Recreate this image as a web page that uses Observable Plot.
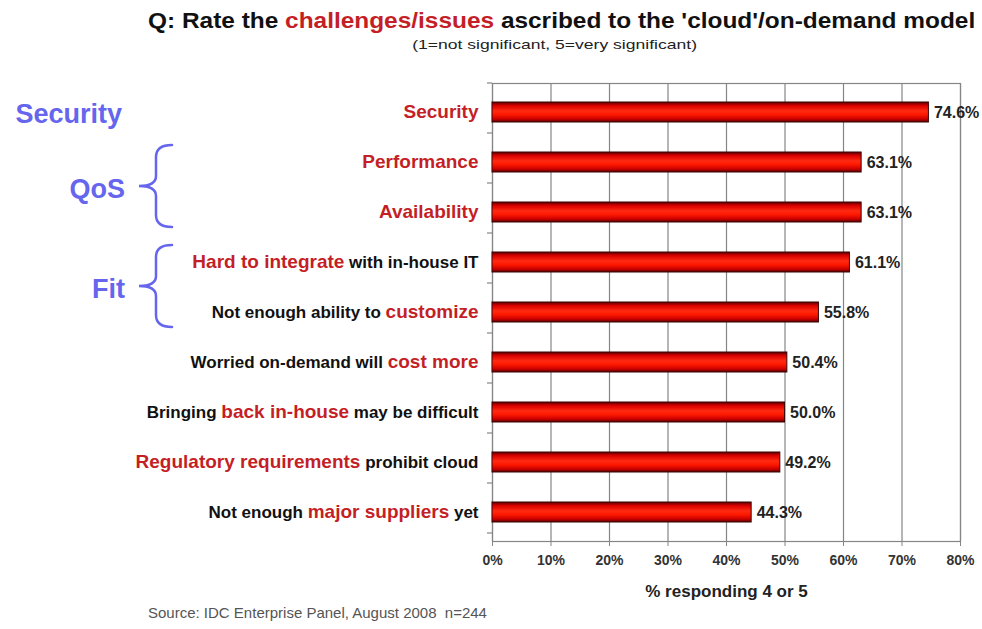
<!DOCTYPE html>
<html>
<head>
<meta charset="utf-8">
<script src="https://cdn.jsdelivr.net/npm/d3@7"></script>
<script src="https://cdn.jsdelivr.net/npm/@observablehq/plot@0.6"></script>
<style>
  html, body { margin: 0; padding: 0; background: #fff; }
  body { width: 982px; height: 629px; position: relative; overflow: hidden; font-family: "Liberation Sans", Arial, sans-serif; }
  #title { position: absolute; left: 148px; top: 8px; font-size: 22px; font-weight: bold; color: #111; white-space: nowrap; transform: scaleX(1.11); transform-origin: 0 0; }
  #title .hl { color: #c41f26; }
  #subtitle { position: absolute; left: 0; width: 1110px; top: 35px; text-align: center; white-space: nowrap; }
  #subtitle span { display: inline-block; font-size: 13.5px; color: #222; transform: scaleX(1.3); }
  #chart { position: absolute; left: 0; top: 55px; }
  #source { position: absolute; left: 148px; top: 604px; font-size: 15px; color: #555; white-space: nowrap; }
</style>
</head>
<body>
<div id="title">Q: Rate the <span class="hl">challenges/issues</span> ascribed to the 'cloud'/on-demand model</div>
<div id="subtitle"><span>(1=not significant, 5=very significant)</span></div>
<div id="chart"></div>
<div id="source">Source: IDC Enterprise Panel, August 2008&nbsp; n=244</div>
<script>
// ---- data ----
const labelParts = [
  [["Security", true]],
  [["Performance", true]],
  [["Availability", true]],
  [["Hard to integrate", true], [" with in-house IT", false]],
  [["Not enough ability to ", false], ["customize", true]],
  [["Worried on-demand will ", false], ["cost more", true]],
  [["Bringing ", false], ["back in-house", true], [" may be difficult", false]],
  [["Regulatory requirements", true], [" prohibit cloud", false]],
  [["Not enough ", false], ["major suppliers", true], [" yet", false]]
];
const categories = labelParts.map(p => p.map(s => s[0]).join(""));
const values = [74.6, 63.1, 63.1, 61.1, 55.8, 50.4, 50.0, 49.2, 44.3];
const xTicks = [0, 10, 20, 30, 40, 50, 60, 70, 80];
const xLabel = "% responding 4 or 5";
const groupNames = ["Security", "QoS", "Fit"];
const groupFirst = [categories[0], categories[1], categories[3]];
const groupLast = [categories[0], categories[2], categories[4]];
const groupBrace = [false, true, true];

const data = categories.map((c, i) => ({category: c, value: values[i]}));
const partsByLabel = new Map(categories.map((c, i) => [c, labelParts[i]]));

const RED = "#c41f26";
const GRID = "#858585";

const plot = Plot.plot({
  width: 982,
  height: 550,
  marginLeft: 492,
  marginRight: 22,
  marginTop: 28,
  marginBottom: 64,
  style: {fontFamily: "'Liberation Sans', Arial, sans-serif", background: "transparent", overflow: "visible"},
  x: {domain: [0, 80]},
  y: {domain: categories, paddingInner: 0.6, paddingOuter: 0.3},
  marks: [
    Plot.ruleX(xTicks, {stroke: GRID, strokeWidth: 1.2}),
    Plot.frame({stroke: GRID, strokeWidth: 1.2}),
    Plot.barX(data, {x: "value", y: "category", fill: "url(#barGrad)", stroke: "#3a0505", strokeWidth: 1}),
    Plot.text(data, {x: "value", y: "category", text: d => d.value.toFixed(1) + "%", textAnchor: "start", dx: 5, fontSize: 16, fontWeight: "bold", fill: "#222"}),
    Plot.axisX({ticks: xTicks, tickFormat: d => d + "%", tickSize: 5, tickPadding: 9, fontSize: 14, fontWeight: "bold", stroke: GRID, fill: "#333", label: null}),
    Plot.axisY({tickSize: 0, tickPadding: 14, fontSize: 17, fontWeight: "bold", fill: "#111", label: null}),
    Plot.text([xLabel], {frameAnchor: "bottom", dy: 50, fontSize: 17, fontWeight: "bold", fill: "#222", lineAnchor: "middle"})
  ]
});
document.getElementById("chart").appendChild(plot);

const svg = d3.select(plot);
// gradient for the cylinder-like bars
const defs = svg.insert("defs", ":first-child");
const grad = defs.append("linearGradient").attr("id", "barGrad").attr("x1", 0).attr("y1", 0).attr("x2", 0).attr("y2", 1);
[[0, "#5a0000"], [0.18, "#d80000"], [0.45, "#ff2a12"], [0.62, "#ff1a00"], [0.85, "#cc0000"], [1, "#5a0000"]]
  .forEach(([o, c]) => grad.append("stop").attr("offset", o).attr("stop-color", c));

// mixed-colour y tick labels
svg.selectAll('g[aria-label="y-axis tick label"] text').each(function() {
  const t = d3.select(this);
  const parts = partsByLabel.get(this.textContent);
  if (!parts) return;
  t.text(null).style("white-space", "pre");
  parts.forEach(([s, hl]) => {
    t.append("tspan").text(s).attr("fill", hl ? RED : "#111").attr("font-size", hl ? 19 : 17);
  });
});

// y scale helpers
const y = plot.scale("y");
const center = c => y.apply(c) + y.bandwidth / 2;
const step = y.step;
const x0 = plot.scale("x").apply(0);

// boundary ticks on the category axis
const gAnn = svg.append("g");
for (let i = 0; i <= categories.length; i++) {
  const yy = Math.min(...y.range) + i * step;
  gAnn.append("line").attr("x1", x0 - 5).attr("x2", x0).attr("y1", yy).attr("y2", yy).attr("stroke", GRID).attr("stroke-width", 1.2);
}

// group labels and braces
const BLUE = "#6565ee";
groupNames.forEach((name, i) => {
  const c1 = center(groupFirst[i]), c2 = center(groupLast[i]);
  const mid = (c1 + c2) / 2;
  gAnn.append("text").text(name)
    .attr("x", groupBrace[i] ? 125 : 122).attr("y", mid + 2)
    .attr("text-anchor", "end").attr("dominant-baseline", "central")
    .attr("font-size", 27).attr("font-weight", "bold").attr("fill", BLUE)
    .attr("font-family", "'Liberation Sans', Arial, sans-serif");
  if (groupBrace[i]) {
    const top = c1 - 17, bot = c2 + 15, m = (top + bot) / 2;
    const xe = 172, xs = 156, xt = 139;
    const p = `M${xe},${top} Q${xs},${top} ${xs},${top + 12} L${xs},${m - 10} Q${xs},${m} ${xt},${m} Q${xs},${m} ${xs},${m + 10} L${xs},${bot - 12} Q${xs},${bot} ${xe},${bot}`;
    gAnn.append("path").attr("d", p).attr("fill", "none").attr("stroke", BLUE).attr("stroke-width", 2.5).attr("stroke-linecap", "round");
  }
});
</script>
</body>
</html>
